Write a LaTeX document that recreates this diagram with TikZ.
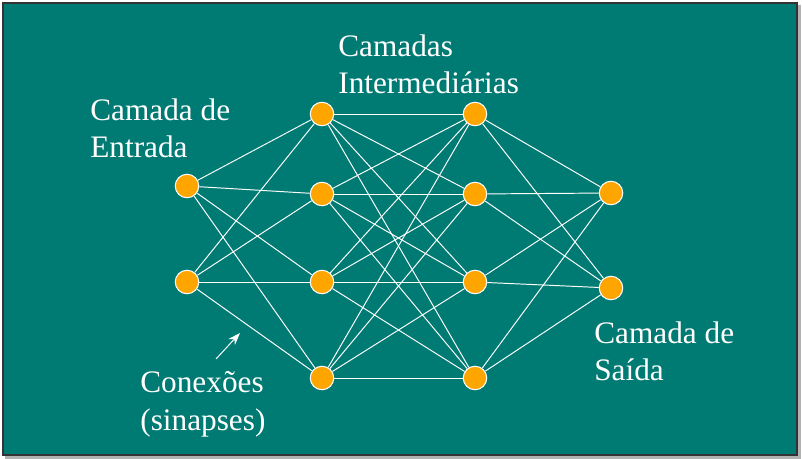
\documentclass[tikz,border=0pt]{standalone}
\usepackage{fontspec}
\setmainfont{Liberation Serif}
\usetikzlibrary{arrows.meta}
\definecolor{fundo}{RGB}{0,123,115}
\definecolor{laranja}{RGB}{255,165,0}

\begin{document}
\begin{tikzpicture}[x=0.02cm,y=-0.02cm]
	\tikzstyle{neuronio}=[circle,draw=white,fill=laranja,line width=0.6pt,minimum size=0.47cm,inner sep=0pt]
	\tikzstyle{rotulo}=[text=white,align=left,anchor=north west,inner sep=0pt,font=\fontsize{17.8}{21.6}\selectfont]
	\tikzstyle{sinapse}=[white,line width=0.55pt]
	\useasboundingbox (0,0) rectangle (802,459);
	\fill[gray!60] (5,5) rectangle (801,459);
	\draw[fill=fundo,draw=black!80,line width=0.8pt] (3,3) rectangle (797,455);
		% camada de entrada
		\node[neuronio] (e1) at (187,186) {};
		\node[neuronio] (e2) at (187,282) {};
		% camadas intermediarias
		\node[neuronio] (a1) at (322,114) {};
		\node[neuronio] (a2) at (322,194) {};
		\node[neuronio] (a3) at (322,282) {};
		\node[neuronio] (a4) at (322,378) {};
		\node[neuronio] (b1) at (475,114) {};
		\node[neuronio] (b2) at (475,194) {};
		\node[neuronio] (b3) at (475,282) {};
		\node[neuronio] (b4) at (475,378) {};
		% camada de saida
		\node[neuronio] (s1) at (611,193) {};
		\node[neuronio] (s2) at (611,288) {};
			\foreach \i in {1,2}
				\foreach \j in {1,...,4}
					\draw[sinapse] (e\i) -- (a\j);
			\foreach \i in {1,...,4}
				\foreach \j in {1,...,4}
					\draw[sinapse] (a\i) -- (b\j);
			\foreach \i in {1,...,4}
				\foreach \j in {1,2}
					\draw[sinapse] (b\i) -- (s\j);
		% rotulos
		\node[rotulo] (entrada) at (90,98) {Camada de\\Entrada};
		\node[rotulo] (meio) at (338,34) {Camadas\\Intermediárias};
		\node[rotulo] (saida) at (594,321) {Camada de\\Saída};
		\node[rotulo] (conexoes) at (140,371) {Conexões\\(sinapses)};
		\coordinate (cauda) at (216,359);
		\coordinate (ponta) at (240,333);
			\draw[sinapse,-{Stealth[length=7pt,width=5pt]}] (cauda) -- (ponta);
\end{tikzpicture}
\end{document}
